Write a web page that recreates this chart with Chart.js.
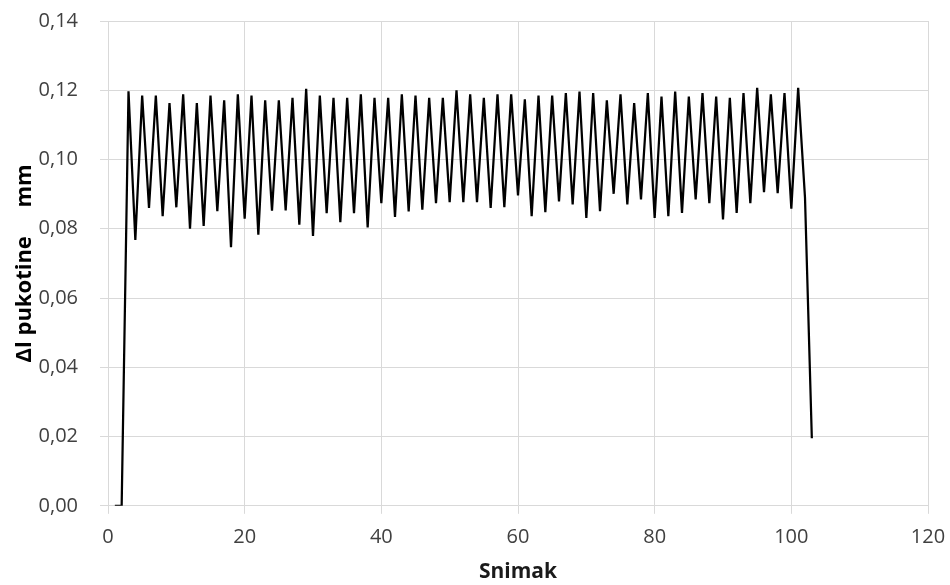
<!DOCTYPE html>
<html>
<head>
<meta charset="utf-8">
<script src="https://cdn.jsdelivr.net/npm/chart.js@4"></script>
<style>
  html, body { margin: 0; padding: 0; background: #fff; }
  #crackChart { display: block; }
</style>
</head>
<body>
<canvas id="crackChart" width="950" height="585"></canvas>
<script>
// Frame numbers (Snimak)
const frames = [
    1, 2, 3, 4, 5, 6, 7, 8, 9, 10,
    11, 12, 13, 14, 15, 16, 17, 18, 19, 20,
    21, 22, 23, 24, 25, 26, 27, 28, 29, 30,
    31, 32, 33, 34, 35, 36, 37, 38, 39, 40,
    41, 42, 43, 44, 45, 46, 47, 48, 49, 50,
    51, 52, 53, 54, 55, 56, 57, 58, 59, 60,
    61, 62, 63, 64, 65, 66, 67, 68, 69, 70,
    71, 72, 73, 74, 75, 76, 77, 78, 79, 80,
    81, 82, 83, 84, 85, 86, 87, 88, 89, 90,
    91, 92, 93, 94, 95, 96, 97, 98, 99, 100,
    101, 102, 103
];

// Crack length change (mm) for each frame
const deltaL = [
    0.0000, 0.0000, 0.1197, 0.0768, 0.1185, 0.0860, 0.1185, 0.0836, 0.1163, 0.0862,
    0.1188, 0.0800, 0.1163, 0.0808, 0.1185, 0.0851, 0.1171, 0.0747, 0.1188, 0.0829,
    0.1185, 0.0783, 0.1171, 0.0852, 0.1171, 0.0853, 0.1178, 0.0812, 0.1204, 0.0779,
    0.1185, 0.0845, 0.1178, 0.0819, 0.1178, 0.0845, 0.1188, 0.0804, 0.1178, 0.0874,
    0.1178, 0.0834, 0.1188, 0.0850, 0.1185, 0.0855, 0.1178, 0.0874, 0.1178, 0.0877,
    0.1200, 0.0877, 0.1188, 0.0877, 0.1178, 0.0860, 0.1188, 0.0862, 0.1188, 0.0896,
    0.1174, 0.0836, 0.1185, 0.0848, 0.1185, 0.0879, 0.1192, 0.0870, 0.1196, 0.0831,
    0.1192, 0.0851, 0.1171, 0.0901, 0.1188, 0.0870, 0.1163, 0.0885, 0.1192, 0.0831,
    0.1182, 0.0836, 0.1196, 0.0846, 0.1182, 0.0885, 0.1192, 0.0874, 0.1182, 0.0827,
    0.1178, 0.0846, 0.1192, 0.0874, 0.1207, 0.0906, 0.1188, 0.0903, 0.1192, 0.0858,
    0.1207, 0.0890, 0.0195
];

// Axis settings
const xMin = 0, xMax = 120, xStep = 20;
const yMin = 0, yMax = 0.14, yStep = 0.02;
const xTitle = 'Snimak';
const yTitle = 'Δl pukotine     mm';

const gridColor = '#d9d9d9';
const tickFont = { family: 'Open Sans', size: 20 };
const xTitleFont = { family: 'Open Sans', size: 21, weight: 'bold' };
const yTitleFont = { family: 'Open Sans', size: 22, weight: 'bold' };

const points = frames.map((f, i) => ({ x: f, y: deltaL[i] }));

window.onload = function () {
    const ctx = document.getElementById('crackChart').getContext('2d');
    new Chart(ctx, {
        type: 'line',
        data: {
            datasets: [{
                label: yTitle,
                data: points,
                borderColor: '#000',
                borderWidth: 2.25,
                pointRadius: 0,
                tension: 0,
                fill: false
            }]
        },
        options: {
            responsive: false,
            animation: false,
            layout: { padding: { top: 21, right: 22, left: 0, bottom: 0 } },
            plugins: {
                legend: { display: false },
                tooltip: { enabled: false }
            },
            scales: {
                x: {
                    type: 'linear',
                    min: xMin,
                    max: xMax,
                    ticks: {
                        stepSize: xStep,
                        color: '#404040',
                        font: tickFont,
                        padding: 11
                    },
                    grid: { color: gridColor, tickLength: 8 },
                    border: { color: gridColor },
                    title: {
                        display: true,
                        text: xTitle,
                        color: '#1a1a1a',
                        font: xTitleFont,
                        padding: { top: 0, bottom: 0 }
                    },
                    afterFit: scale => { scale.paddingLeft = 0; scale.paddingRight = 0; }
                },
                y: {
                    min: yMin,
                    max: yMax,
                    ticks: {
                        stepSize: yStep,
                        color: '#404040',
                        font: tickFont,
                        padding: 22,
                        callback: v => v.toFixed(2).replace('.', ',')
                    },
                    grid: { color: gridColor, tickLength: 8 },
                    border: { color: gridColor },
                    title: {
                        display: true,
                        text: yTitle,
                        color: '#000',
                        font: yTitleFont,
                        padding: { top: 12, bottom: 0 }
                    },
                    // fix the axis width and edge padding so the plot sits where the original does
                    afterFit: scale => {
                        scale.width = 108;
                        scale.paddingTop = 0;
                        scale.paddingBottom = 0;
                    }
                }
            }
        }
    });
};
</script>
</body>
</html>
